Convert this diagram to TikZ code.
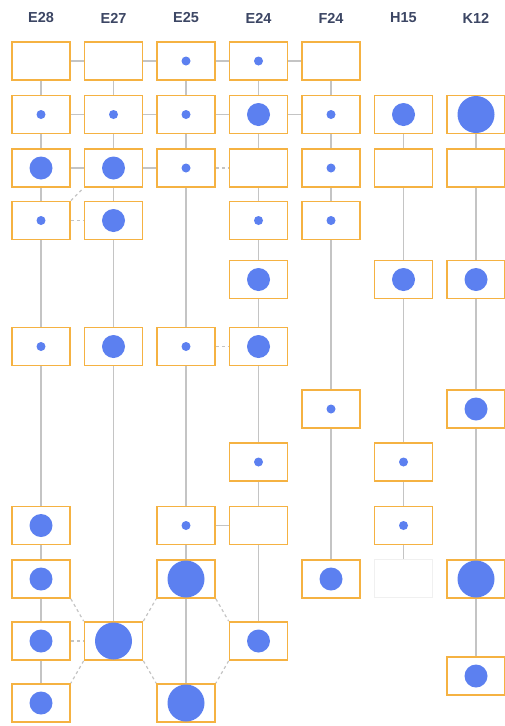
\documentclass[tikz,border=0pt]{standalone}
\usepackage{fontspec}
\setmainfont{Liberation Sans}
\definecolor{boxorange}{RGB}{245,178,66}
\definecolor{dotblue}{RGB}{92,128,240}
\definecolor{linegray}{RGB}{196,196,196}
\definecolor{headtext}{RGB}{60,70,100}
\begin{document}
\begin{tikzpicture}[x=1pt,y=-1pt,
    cell/.style={draw=boxorange, fill=white, line width=1.8pt, minimum width=58pt, minimum height=38pt, inner sep=0pt},
    ghost/.style={draw=gray!12, line width=0.8pt, minimum width=58pt, minimum height=38pt, inner sep=0pt},
    link/.style={linegray, line width=1.2pt},
    weak/.style={linegray, line width=1.2pt, dash pattern=on 3pt off 3pt},
    head/.style={text=headtext, font=\fontsize{14.5}{16}\selectfont\bfseries}]
    \useasboundingbox (0,0) rectangle (505,726);
    % Headers
    \foreach \n/\x in {E28/41,E27/113.5,E25/186,E24/258.5,F24/331,H15/403.5,K12/476}
        \node[head] (h\n) at (\x,18) {\n};
    % Cells
    \foreach \n/\x/\y in {E28-1/41/61, E28-2/41/114.5, E28-3/41/168, E28-4/41/220.5, E28-6/41/346.5,
            E28-9/41/525.5, E28-10/41/579, E28-11/41/641, E28-12/41/703,
            E27-1/113.5/61, E27-2/113.5/114.5, E27-3/113.5/168, E27-4/113.5/220.5, E27-6/113.5/346.5, E27-11/113.5/641,
            E25-1/186/61, E25-2/186/114.5, E25-3/186/168, E25-6/186/346.5, E25-9/186/525.5, E25-10/186/579, E25-12/186/703,
            E24-1/258.5/61, E24-2/258.5/114.5, E24-3/258.5/168, E24-4/258.5/220.5, E24-5/258.5/279.5,
            E24-6/258.5/346.5, E24-8/258.5/462, E24-9/258.5/525.5, E24-11/258.5/641,
            F24-1/331/61, F24-2/331/114.5, F24-3/331/168, F24-4/331/220.5, F24-7/331/409, F24-10/331/579,
            H15-2/403.5/114.5, H15-3/403.5/168, H15-5/403.5/279.5, H15-8/403.5/462, H15-9/403.5/525.5,
            K12-2/476/114.5, K12-3/476/168, K12-5/476/279.5, K12-7/476/409, K12-10/476/579, K12-13/476/676}
        \node[cell] (\n) at (\x,\y) {};
    \node[ghost] (H15-10) at (403.5,578) {};
    % Dots
    \foreach \n in {E28-2,E28-4,E28-6,E27-2,E25-1,E25-2,E25-3,E25-6,E25-9,E24-1,E24-4,E24-8,F24-2,F24-3,F24-4,F24-7,H15-8,H15-9}
        \fill[dotblue] (\n) circle (4.5);
    \foreach \n in {E28-3,E28-9,E28-10,E28-11,E28-12,E27-3,E27-4,E27-6,E24-2,E24-5,E24-6,E24-11,F24-10,H15-2,H15-5,K12-5,K12-7,K12-13}
        \fill[dotblue] (\n) circle (11.5);
    \foreach \n in {E27-11,E25-10,E25-12,K12-2,K12-10}
        \fill[dotblue] (\n) circle (18.5);
    % Vertical lines
    \foreach \a/\b in {E28-1/E28-2, E28-2/E28-3, E28-3/E28-4, E28-4/E28-6, E28-6/E28-9, E28-9/E28-10, E28-10/E28-11, E28-11/E28-12,
            E27-1/E27-2, E27-2/E27-3, E27-3/E27-4, E27-4/E27-6, E27-6/E27-11,
            E25-1/E25-2, E25-2/E25-3, E25-3/E25-6, E25-6/E25-9, E25-9/E25-10, E25-10/E25-12,
            E24-1/E24-2, E24-2/E24-3, E24-3/E24-4, E24-4/E24-5, E24-5/E24-6, E24-6/E24-8, E24-8/E24-9, E24-9/E24-11,
            F24-1/F24-2, F24-2/F24-3, F24-3/F24-4, F24-4/F24-7, F24-7/F24-10,
            H15-2/H15-3, H15-3/H15-5, H15-5/H15-8, H15-8/H15-9, H15-9/H15-10,
            K12-2/K12-3, K12-3/K12-5, K12-5/K12-7, K12-7/K12-10, K12-10/K12-13}
        \draw[link] (\a) -- (\b);
    % Horizontal lines
    \foreach \a/\b in {E28-1/E27-1, E27-1/E25-1, E25-1/E24-1, E24-1/F24-1,
            E28-2/E27-2, E27-2/E25-2, E25-2/E24-2, E24-2/F24-2,
            E28-3/E27-3, E27-3/E25-3, E25-9/E24-9}
        \draw[link] (\a) -- (\b);
    \foreach \a/\b in {E25-3/E24-3, E28-4/E27-4, E25-6/E24-6, E28-11/E27-11}
        \draw[weak] (\a) -- (\b);
    % Diagonals
    \draw[weak] (E28-4.north east) -- (E27-3.south west);
    \draw[weak] (E28-10.south east) -- (E27-11.north west);
    \draw[weak] (E27-11.south west) -- (E28-12.north east);
    \draw[weak] (E27-11.north east) -- (E25-10.south west);
    \draw[weak] (E27-11.south east) -- (E25-12.north west);
    \draw[weak] (E25-10.south east) -- (E24-11.north west);
    \draw[weak] (E24-11.south west) -- (E25-12.north east);
\end{tikzpicture}
\end{document}
